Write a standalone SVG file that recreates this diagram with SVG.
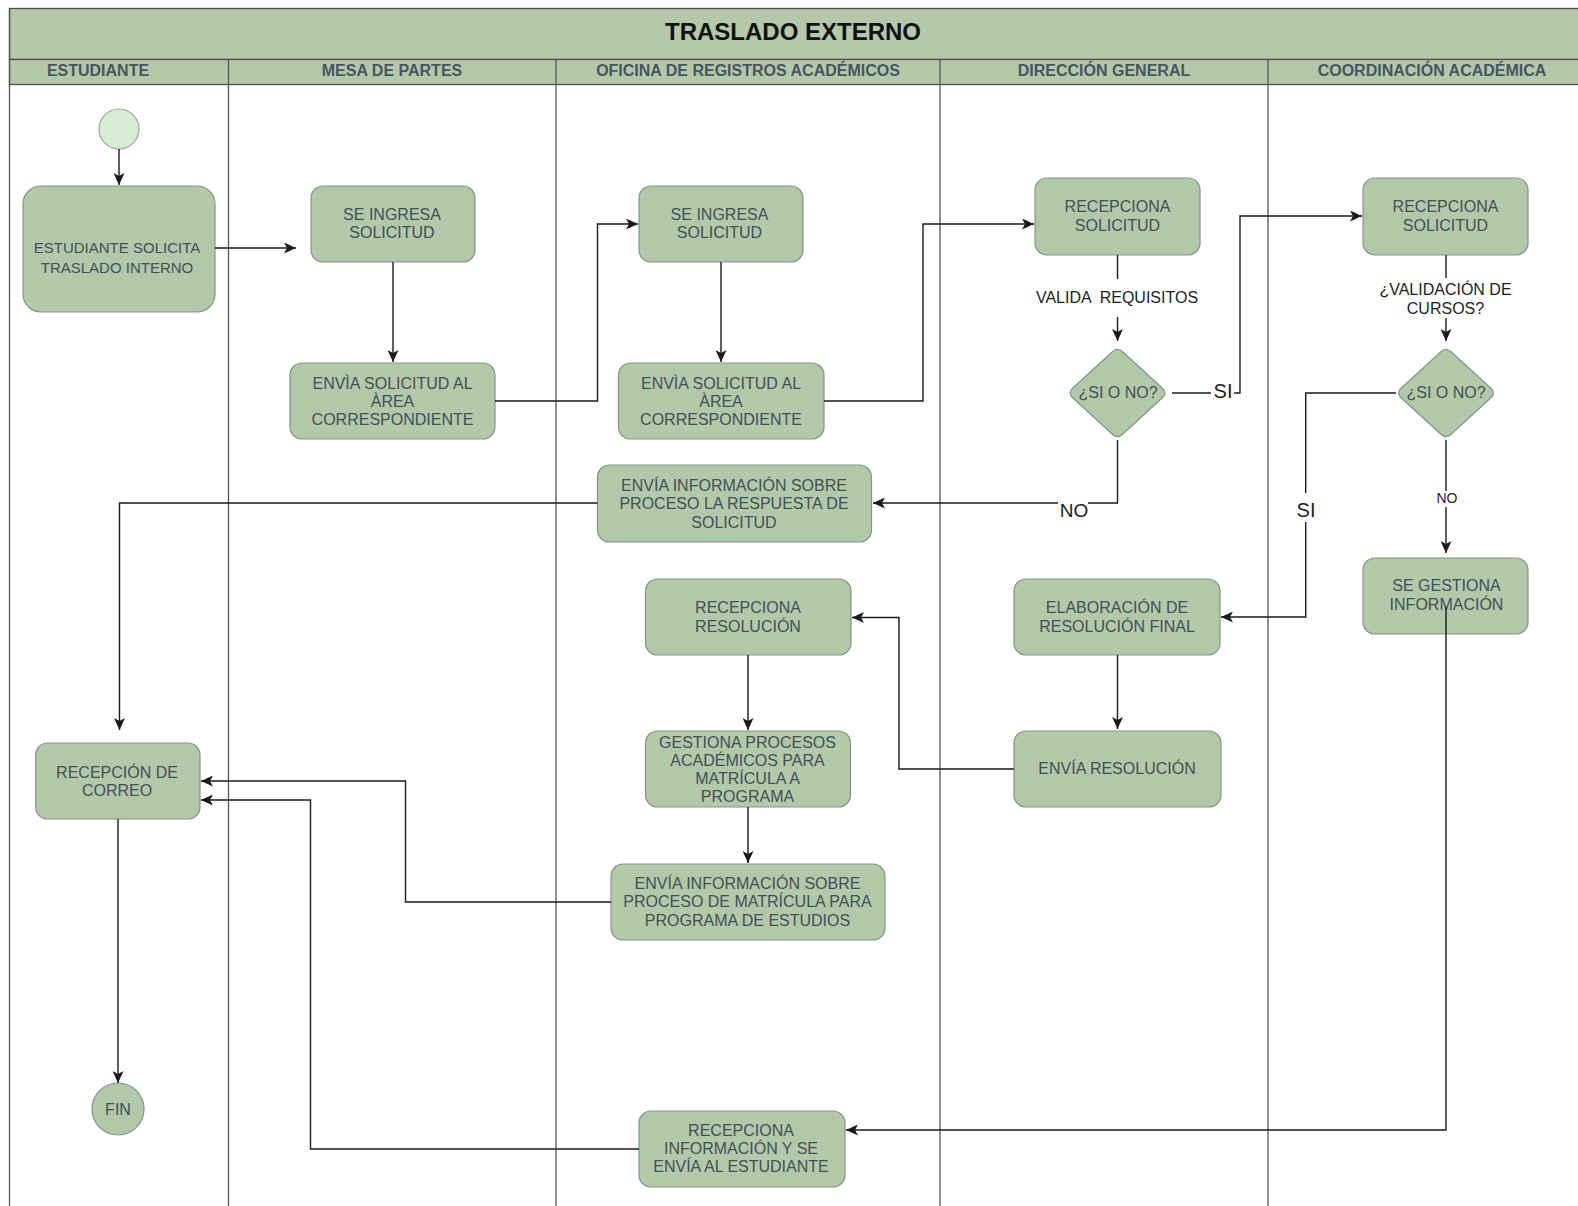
<svg xmlns="http://www.w3.org/2000/svg" width="1578" height="1206" viewBox="0 0 1578 1206">
<style>
.band{fill:#b4c8a9;stroke:#4d4d4d;stroke-width:1.3}
.lane{stroke:#555;stroke-width:1.3;fill:none}
.box{fill:#b3c8a8;stroke:#80958a;stroke-width:1.2}
.t{font-family:"Liberation Sans",Arial,sans-serif;font-size:16px;fill:#3f5058;text-anchor:middle}
.hdr{font-family:"Liberation Sans",Arial,sans-serif;font-size:16px;font-weight:bold;fill:#475560;text-anchor:middle}
.title{font-family:"Liberation Sans",Arial,sans-serif;font-size:24px;font-weight:bold;fill:#111;text-anchor:middle}
.lbl{font-family:"Liberation Sans",Arial,sans-serif;font-size:16px;fill:#1e1e1e;text-anchor:middle;white-space:pre}
.edge{stroke:#1a1a1a;stroke-width:1.4;fill:none}
.arr{marker-end:url(#arrow)}
</style>
<defs>
<marker id="arrow" markerUnits="userSpaceOnUse" markerWidth="12" markerHeight="11" refX="12" refY="5.5" orient="auto">
<path d="M0,0 L12,5.5 L0,11 L3,5.5 Z" fill="#1a1a1a"/>
</marker>
<path id="diamond" d="M-5.1,-41.3 Q0,-46 5.1,-41.3 L44.9,-4.7 Q50,0 44.9,4.7 L5.1,41.3 Q0,46 -5.1,41.3 L-44.9,4.7 Q-50,0 -44.9,-4.7 Z"/>
</defs>
<rect x="0" y="0" width="1578" height="1206" fill="#ffffff"/>
<g id="pool">
<rect class="band" x="9.5" y="8.5" width="1590" height="51"/>
<rect class="band" x="9.5" y="59.5" width="1590" height="25"/>
<line class="lane" x1="9.5" y1="8.5" x2="9.5" y2="1210"/>
<line class="lane" x1="228.5" y1="59.5" x2="228.5" y2="1210"/>
<line class="lane" x1="556" y1="59.5" x2="556" y2="1210"/>
<line class="lane" x1="940" y1="59.5" x2="940" y2="1210"/>
<line class="lane" x1="1268" y1="59.5" x2="1268" y2="1210"/>
<text class="title" x="793" y="40">TRASLADO EXTERNO</text>
<text class="hdr" x="98" y="76.4">ESTUDIANTE</text>
<text class="hdr" x="392" y="76.4">MESA DE PARTES</text>
<text class="hdr" x="748" y="76.4">OFICINA DE REGISTROS ACADÉMICOS</text>
<text class="hdr" x="1104" y="76.4">DIRECCIÓN GENERAL</text>
<text class="hdr" x="1432" y="76.4">COORDINACIÓN ACADÉMICA</text>
</g>
<g id="n_start"><circle cx="119" cy="129" r="20" fill="#d9ebd4" stroke="#90ad8c" stroke-width="1.2"/></g>
<g id="n_est1"><rect class="box" x="23" y="186" width="192" height="126" rx="18"/>
<text class="t" style="font-size:15px" x="117"><tspan x="117" y="253.4">ESTUDIANTE SOLICITA</tspan><tspan x="117" y="272.5">TRASLADO INTERNO</tspan></text></g>
<g id="n_mp1"><rect class="box" x="311" y="186" width="164" height="76" rx="12"/>
<text class="t"><tspan x="392" y="219.7">SE INGRESA</tspan><tspan x="392" y="238.4">SOLICITUD</tspan></text></g>
<g id="n_mp2"><rect class="box" x="290" y="363" width="205" height="76" rx="12"/>
<text class="t"><tspan x="392.5" y="389">ENVÌA SOLICITUD AL</tspan><tspan x="392.5" y="407">ÀREA</tspan><tspan x="392.5" y="425">CORRESPONDIENTE</tspan></text></g>
<g id="n_or1"><rect class="box" x="639" y="186" width="164" height="76" rx="12"/>
<text class="t"><tspan x="719.5" y="219.7">SE INGRESA</tspan><tspan x="719.5" y="238.4">SOLICITUD</tspan></text></g>
<g id="n_or2"><rect class="box" x="618.5" y="363" width="205.5" height="76" rx="12"/>
<text class="t"><tspan x="721" y="389">ENVÌA SOLICITUD AL</tspan><tspan x="721" y="407">ÀREA</tspan><tspan x="721" y="425">CORRESPONDIENTE</tspan></text></g>
<g id="n_or3"><rect class="box" x="597.5" y="465" width="274" height="77" rx="12"/>
<text class="t"><tspan x="734" y="490.5">ENVÍA INFORMACIÓN SOBRE</tspan><tspan x="734" y="509">PROCESO LA RESPUESTA DE</tspan><tspan x="734" y="527.5">SOLICITUD</tspan></text></g>
<g id="n_or4"><rect class="box" x="645.5" y="579" width="205.5" height="76" rx="12"/>
<text class="t"><tspan x="748" y="613">RECEPCIONA</tspan><tspan x="748" y="631.7">RESOLUCIÓN</tspan></text></g>
<g id="n_or5"><rect class="box" x="645.5" y="731" width="205" height="76" rx="12"/>
<text class="t"><tspan x="747.5" y="747.5">GESTIONA PROCESOS</tspan><tspan x="747.5" y="765.8">ACADÉMICOS PARA</tspan><tspan x="747.5" y="784.1">MATRÍCULA A</tspan><tspan x="747.5" y="802.4">PROGRAMA</tspan></text></g>
<g id="n_or6"><rect class="box" x="611" y="864" width="274" height="76" rx="12"/>
<text class="t"><tspan x="747.5" y="889">ENVÍA INFORMACIÓN SOBRE</tspan><tspan x="747.5" y="907.4">PROCESO DE MATRÍCULA PARA</tspan><tspan x="747.5" y="925.7">PROGRAMA DE ESTUDIOS</tspan></text></g>
<g id="n_or7"><rect class="box" x="639" y="1111" width="206" height="76" rx="12"/>
<text class="t"><tspan x="741" y="1135.7">RECEPCIONA</tspan><tspan x="741" y="1154">INFORMACIÓN Y SE</tspan><tspan x="741" y="1172.3">ENVÍA AL ESTUDIANTE</tspan></text></g>
<g id="n_dg1"><rect class="box" x="1035" y="178" width="165" height="77" rx="12"/>
<text class="t"><tspan x="1117.5" y="212.4">RECEPCIONA</tspan><tspan x="1117.5" y="230.7">SOLICITUD</tspan></text></g>
<g id="n_dg2"><use href="#diamond" class="box" transform="translate(1117.5,393)"/>
<text class="t" x="1118" y="398.4">¿SI O NO?</text></g>
<g id="n_dg3"><rect class="box" x="1014" y="579" width="206" height="76" rx="12"/>
<text class="t"><tspan x="1117" y="613">ELABORACIÓN DE</tspan><tspan x="1117" y="631.7">RESOLUCIÓN FINAL</tspan></text></g>
<g id="n_dg4"><rect class="box" x="1014" y="731" width="207" height="76" rx="12"/>
<text class="t" x="1117" y="774">ENVÍA RESOLUCIÓN</text></g>
<g id="n_ca1"><rect class="box" x="1363" y="178" width="165" height="77" rx="12"/>
<text class="t"><tspan x="1445.5" y="212.4">RECEPCIONA</tspan><tspan x="1445.5" y="230.7">SOLICITUD</tspan></text></g>
<g id="n_ca2"><use href="#diamond" class="box" transform="translate(1446,393)"/>
<text class="t" x="1446" y="398.4">¿SI O NO?</text></g>
<g id="n_ca3"><rect class="box" x="1363" y="558" width="165" height="76" rx="12"/>
<text class="t"><tspan x="1446.5" y="591.4">SE GESTIONA</tspan><tspan x="1446.5" y="610">INFORMACIÓN</tspan></text></g>
<g id="n_est2"><rect class="box" x="35.7" y="743" width="164.3" height="76" rx="12"/>
<text class="t"><tspan x="117" y="778">RECEPCIÓN DE</tspan><tspan x="117" y="796.4">CORREO</tspan></text></g>
<g id="n_fin"><circle class="box" cx="118" cy="1109" r="26"/>
<text class="t" x="118" y="1114.7">FIN</text></g>
<g id="connectors">
<path class="edge arr" d="M119,149 V185"/>
<path class="edge arr" d="M215,248 H296"/>
<path class="edge arr" d="M393,262 V362"/>
<path class="edge arr" d="M495,401 H597.5 V224 H638"/>
<path class="edge arr" d="M721,262 V362"/>
<path class="edge arr" d="M824,401 H923 V224 H1034"/>
<path class="edge" d="M1117.5,255 V279"/>
<path class="edge arr" d="M1117.5,317 V341"/>
<path class="edge" d="M1172,393 H1211"/>
<path class="edge arr" d="M1234,393 H1240 V216 H1362"/>
<path class="edge" d="M1117.5,440 V503 H1088"/>
<path class="edge arr" d="M1058,503 H873"/>
<path class="edge arr" d="M597.5,503 H119.5 V730"/>
<path class="edge" d="M1446,255 V278"/>
<path class="edge arr" d="M1446,318 V341"/>
<path class="edge" d="M1396,393 H1305.7 V493"/>
<path class="edge arr" d="M1305.7,522 V617 H1221"/>
<path class="edge" d="M1446,440 V491"/>
<path class="edge arr" d="M1446,507 V553"/>
<path class="edge arr" d="M1117.5,655 V729"/>
<path class="edge arr" d="M1014,769 H899 V617.5 H852"/>
<path class="edge arr" d="M748,655 V730"/>
<path class="edge arr" d="M748,807 V863"/>
<path class="edge arr" d="M611,902 H405.5 V781 H201"/>
<path class="edge arr" d="M639,1149 H310.5 V800 H201"/>
<path class="edge arr" d="M1446,607 V1130 H846"/>
<path class="edge arr" d="M118,819 V1083"/>
<text class="lbl" x="1117" y="302.7">VALIDA  REQUISITOS</text>
<text class="lbl"><tspan x="1445.5" y="294.5">¿VALIDACIÓN DE</tspan><tspan x="1445.5" y="313.7">CURSOS?</tspan></text>
<text class="lbl" style="font-size:20px" x="1223" y="397.5">SI</text>
<text class="lbl" style="font-size:19px" x="1074" y="516.5">NO</text>
<text class="lbl" style="font-size:20px" x="1306" y="517.2">SI</text>
<text class="lbl" style="font-size:14px" x="1447" y="503.3">NO</text>
</g>
</svg>
